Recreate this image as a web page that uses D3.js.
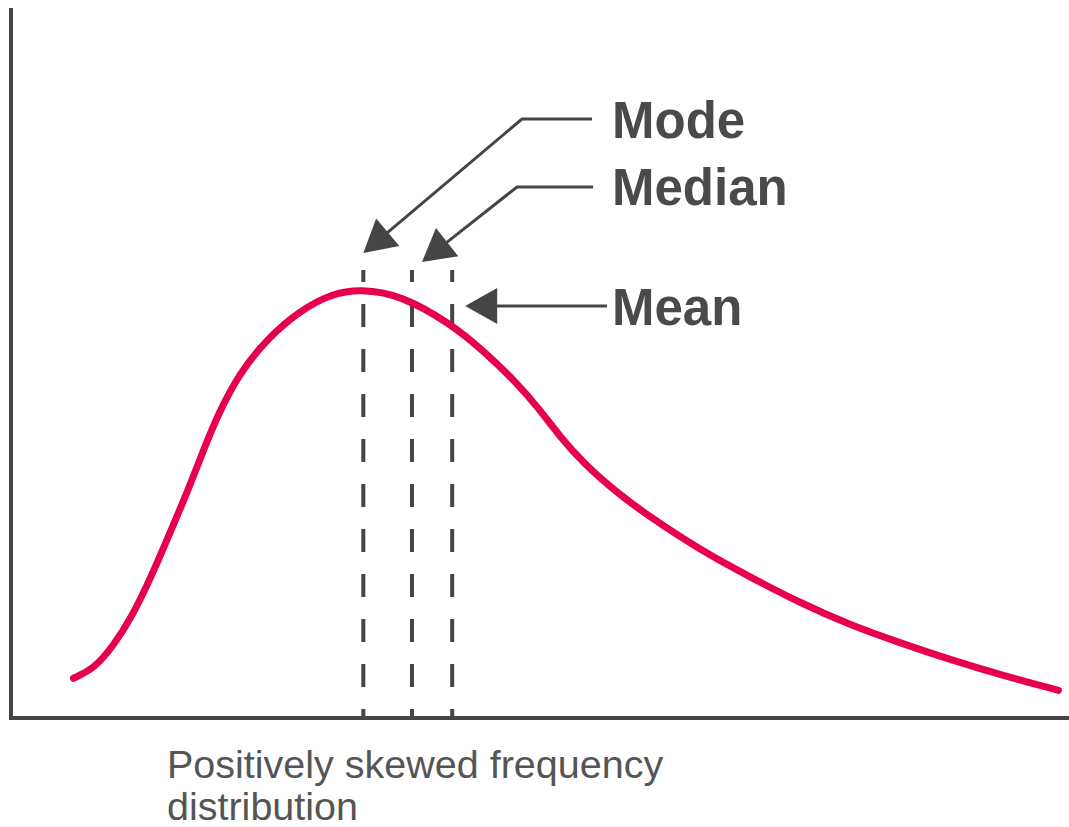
<!DOCTYPE html>
<html>
<head>
<meta charset="utf-8">
<script src="https://cdn.jsdelivr.net/npm/d3@7/dist/d3.min.js"></script>
<style>
  body { margin: 0; background: #fff; }
  svg { display: block; }
</style>
</head>
<body>
<div id="chart"></div>
<script>
// curve points (x = value, y = frequency)
var curveX = [5.9, 7.8, 9.6, 11.5, 13.4, 15.0, 16.6, 17.9, 19.5, 21.6, 24.2, 27.3, 30.4, 33.0, 36.8, 41.5, 44.6, 47.8, 50.0, 51.9, 54.1, 57.3, 60.4, 65.1, 69.8, 74.6, 79.3, 84.0, 88.8, 93.5, 99.0];
var curveY = [5.6, 6.9, 10.0, 14.4, 20.4, 26.0, 31.6, 36.6, 42.6, 48.6, 53.4, 57.4, 59.8, 60.4, 59.6, 55.6, 51.8, 47.2, 43.4, 39.6, 35.9, 31.7, 28.3, 23.7, 19.9, 16.2, 13.1, 10.6, 8.2, 6.1, 3.9];
// mode / median / mean
var markNames = ["Mode", "Median", "Mean"];
var markX = [33.3, 37.9, 41.7];
var markTop = 63.1;
var caption = ["Positively skewed frequency", "distribution"];

var W = 1069, H = 827;
var dark = "#454545";

var svg = d3.select("#chart").append("svg")
    .attr("width", W)
    .attr("height", H);

/*比例尺*/
var x = d3.scaleLinear().domain([0, 100]).range([11, 1069]);
var y = d3.scaleLinear().domain([0, 100]).range([718, 8]);

/*坐标轴线*/
svg.append("line")
    .attr("x1", x(0)).attr("x2", x(0))
    .attr("y1", y(100)).attr("y2", y(0) + 2)
    .attr("stroke", dark).attr("stroke-width", 4);
svg.append("line")
    .attr("x1", x(0) - 2).attr("x2", x(100))
    .attr("y1", y(0)).attr("y2", y(0))
    .attr("stroke", dark).attr("stroke-width", 4);

/*虚线*/
svg.selectAll(".mark").data(markX).enter().append("line")
    .attr("class", "mark")
    .attr("x1", function(d){ return x(d); })
    .attr("x2", function(d){ return x(d); })
    .attr("y1", y(0))
    .attr("y2", y(markTop))
    .attr("stroke", dark)
    .attr("stroke-width", 4)
    .attr("stroke-dasharray", "23,22")
    .attr("stroke-dashoffset", 14);

/*曲线*/
var pts = curveX.map(function(d, i){ return [d, curveY[i]]; });
svg.append("path")
    .datum(pts)
    .attr("fill", "none")
    .attr("stroke", "#e6004f")
    .attr("stroke-width", 7)
    .attr("stroke-linecap", "round")
    .attr("d", d3.line()
        .x(function(d){ return x(d[0]); })
        .y(function(d){ return y(d[1]); })
        .curve(d3.curveBasis));

/*箭头（折线 + 三角形）*/
var tipTop = y(markTop);
var arrows = [
    [[592, 119], [522, 119], [x(markX[0]), tipTop - 17]],
    [[593, 187], [517, 187], [x(markX[1]) + 10, tipTop - 8]],
    [[607, 306], [x(markX[2]) + 13, 306]]
];
arrows.forEach(function(a){
    var tip = a[a.length - 1], prev = a[a.length - 2];
    var dx = tip[0] - prev[0], dy = tip[1] - prev[1];
    var len = Math.sqrt(dx * dx + dy * dy);
    var ux = dx / len, uy = dy / len;
    var L = 32, hw = 18;
    var bx = tip[0] - ux * L, by = tip[1] - uy * L;
    var line = a.slice(0, a.length - 1).concat([[bx + ux * 2, by + uy * 2]]);
    svg.append("path")
        .attr("d", d3.line()(line))
        .attr("fill", "none")
        .attr("stroke", dark)
        .attr("stroke-width", 3);
    svg.append("path")
        .attr("d", d3.line()([tip, [bx - uy * hw, by + ux * hw], [bx + uy * hw, by - ux * hw]]) + "Z")
        .attr("fill", dark);
});

/*标签*/
var labelY = [138, 205, 325];
svg.selectAll(".lbl").data(markNames).enter().append("text")
    .attr("class", "lbl")
    .attr("x", 612)
    .attr("y", function(d, i){ return labelY[i]; })
    .attr("font-family", "Liberation Sans, Arial, sans-serif")
    .attr("font-weight", "bold")
    .attr("font-size", 51)
    .attr("fill", "#4a4a4a")
    .text(function(d){ return d; });

/*说明文字*/
svg.selectAll(".cap").data(caption).enter().append("text")
    .attr("class", "cap")
    .attr("x", 167)
    .attr("y", function(d, i){ return 778 + i * 42; })
    .attr("font-family", "Liberation Sans, Arial, sans-serif")
    .attr("font-size", 39.5)
    .attr("fill", "#555")
    .text(function(d){ return d; });
</script>
</body>
</html>
